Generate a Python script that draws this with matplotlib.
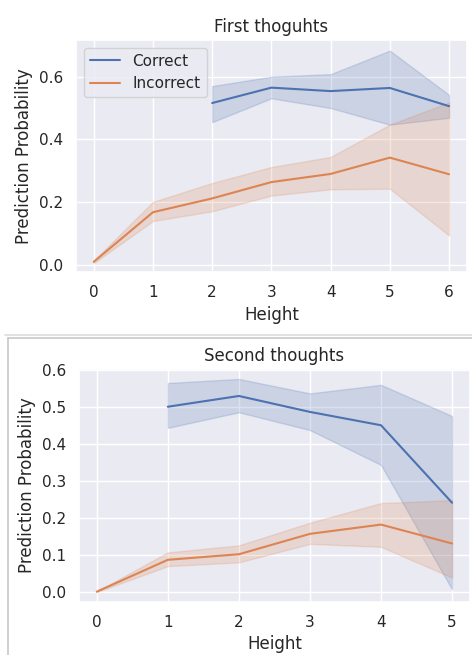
import numpy as np
import matplotlib
matplotlib.use('Agg')
from matplotlib import pyplot as plt
from matplotlib.lines import Line2D
import seaborn as sns

sns.set_theme()

# --- First thoughts ---
first_height_correct = [2, 3, 4, 5, 6]
first_correct = [0.516, 0.565, 0.554, 0.564, 0.506]
first_correct_lo = [0.455, 0.531, 0.500, 0.447, 0.469]
first_correct_hi = [0.570, 0.600, 0.608, 0.683, 0.542]

first_height_incorrect = [0, 1, 2, 3, 4, 5, 6]
first_incorrect = [0.010, 0.168, 0.212, 0.264, 0.290, 0.342, 0.289]
first_incorrect_lo = [0.006, 0.140, 0.171, 0.221, 0.241, 0.243, 0.094]
first_incorrect_hi = [0.014, 0.201, 0.261, 0.312, 0.344, 0.447, 0.518]

# --- Second thoughts ---
second_height_correct = [1, 2, 3, 4, 5]
second_correct = [0.501, 0.530, 0.487, 0.451, 0.242]
second_correct_lo = [0.444, 0.486, 0.438, 0.344, 0.008]
second_correct_hi = [0.565, 0.576, 0.537, 0.560, 0.476]

second_height_incorrect = [0, 1, 2, 3, 4, 5]
second_incorrect = [0.002, 0.088, 0.103, 0.158, 0.183, 0.132]
second_incorrect_lo = [0.001, 0.071, 0.081, 0.131, 0.123, 0.040]
second_incorrect_hi = [0.003, 0.108, 0.127, 0.188, 0.241, 0.249]

BLUE = '#4c72b0'
ORANGE = '#dd8452'


def draw_panel(ax, hc, c, clo, chi, hi_, inc, inclo, inchi, title):
    ax.fill_between(hc, clo, chi, color=BLUE, alpha=0.2, linewidth=1)
    ax.plot(hc, c, color=BLUE, lw=1.5, label='Correct')
    ax.fill_between(hi_, inclo, inchi, color=ORANGE, alpha=0.2, linewidth=1)
    ax.plot(hi_, inc, color=ORANGE, lw=1.5, label='Incorrect')
    ax.set_title(title)
    ax.set_xlabel('Height')
    ax.set_ylabel('Prediction Probability')


fig = plt.figure(figsize=(4.72, 6.55), dpi=100)

ax1 = fig.add_axes([0.161, 0.585, 0.828, 0.354])
draw_panel(ax1, first_height_correct, first_correct, first_correct_lo, first_correct_hi,
           first_height_incorrect, first_incorrect, first_incorrect_lo, first_incorrect_hi,
           'First thoguhts')
ax1.set_xlim(-0.3, 6.3)
ax1.set_ylim(-0.022, 0.717)
ax1.set_yticks([0.0, 0.2, 0.4, 0.6])
ax1.legend(loc='upper left')

ax2 = fig.add_axes([0.1674, 0.0814, 0.828, 0.3548])
draw_panel(ax2, second_height_correct, second_correct, second_correct_lo, second_correct_hi,
           second_height_incorrect, second_incorrect, second_incorrect_lo, second_incorrect_hi,
           'Second thoughts')
ax2.set_xlim(-0.25, 5.25)
ax2.set_ylim(-0.025, 0.602)
ax2.set_yticks([0.0, 0.1, 0.2, 0.3, 0.4, 0.5, 0.6])

# separator / frame around the second figure
fig.add_artist(Line2D([5 / 472, 1], [1 - 334.5 / 655] * 2, color='#dcdcdc', lw=1.2))
fig.add_artist(Line2D([7.5 / 472, 1], [1 - 337.5 / 655] * 2, color='#c8c8c8', lw=1.2))
fig.add_artist(Line2D([7.5 / 472] * 2, [0, 1 - 337.5 / 655], color='#c8c8c8', lw=1.2))

fig.savefig('out.png', dpi=100)
